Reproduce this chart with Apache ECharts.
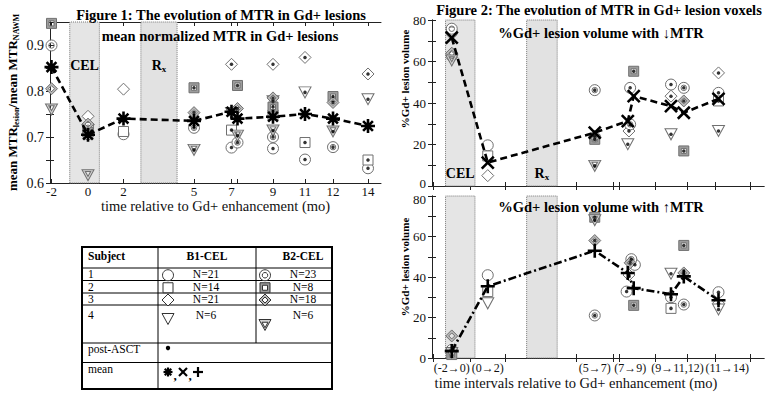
<!DOCTYPE html>
<html>
<head>
<meta charset="utf-8">
<script src="https://cdn.jsdelivr.net/npm/echarts@6/dist/echarts.min.js"></script>
<style>
  html, body { margin: 0; padding: 0; background: #fff; }
  #chart { width: 765px; height: 394px; }
</style>
</head>
<body>
<div id="chart"></div>
<script>
// ---------------- data ----------------
// months that carry a tick on the time axis, and the ones that are labelled
const tickMonths = [-2, 0, 2, 5, 7, 7.5, 9, 11, 12, 14];
const labelMonths = [-2, 0, 2, 5, 7, 9, 11, 12, 14];

// Figure 1: mean normalized MTR in Gd+ lesions, [month, MTR ratio]
const f1Mean = [[-2, 0.852], [0, 0.705], [2, 0.74], [5, 0.735], [7, 0.755], [7.5, 0.74], [9, 0.744], [11, 0.75], [12, 0.74], [14, 0.724]];
const f1B1Circle = [[0, 0.706], [2, 0.706], [7, 0.677], [9, 0.675], [11, 0.651], [14, 0.632]];
const f1B1Square = [[0, 0.712], [2, 0.712], [7, 0.715], [9, 0.748], [11, 0.688], [14, 0.65]];
const f1B1Diamond = [[0, 0.745], [2, 0.804], [7, 0.858], [9, 0.858], [11, 0.873], [14, 0.837]];
const f1B1Triangle = [[0, 0.715], [7, 0.752], [9, 0.778], [11, 0.797], [14, 0.782]];
const f1B2Circle = [[-2, 0.899], [0, 0.72], [5, 0.72], [7.5, 0.688], [9, 0.70], [12, 0.678]];
const f1B2Square = [[-2, 0.947], [0, 0.71], [5, 0.807], [7.5, 0.812], [9, 0.765], [12, 0.788]];
const f1B2Diamond = [[-2, 0.805], [0, 0.728], [5, 0.753], [7.5, 0.762], [9, 0.785], [12, 0.775]];
const f1B2Triangle = [[-2, 0.76], [0, 0.617], [5, 0.672], [7.5, 0.703], [9, 0.714], [12, 0.712]];

// Figure 2: % of Gd+ lesion volume, points sit between the two scans of each interval
const f2IntervalLabels = ['(-2\u21920)', '(0\u21922)', '(5\u21927)', '(7\u21929)', '(9\u219211,12)', '(11\u219214)'];
const f2LabelMonths = [-1, 1, 6, 7.95, 10.4, 12.7];

// decreasing MTR
const f2DownMean = [[-1, 71.5], [1, 11.3], [6, 25.7], [7.85, 31.3], [8.1, 43.3], [10, 38.5], [10.8, 35.3], [12.2, 42]];
const f2DownB1Circle = [[-1, 74], [1, 19.6], [7.95, 47.3], [10, 48.9], [12.2, 44.9]];
const f2DownB1Square = [[1, 14.5], [12.2, 41]];
const f2DownB1Diamond = [[-1, 62], [1, 5], [7.9, 26.5], [10, 43.3], [12.2, 54.5]];
const f2DownB1Triangle = [[7.85, 20.1], [10, 24.9], [12.2, 26.5]];
const f2DownB2Circle = [[-1, 75.8], [6, 46.2], [7.95, 29.7], [10.8, 47.3]];
const f2DownB2Square = [[6, 22.5], [8.1, 55.3], [10.8, 16.9]];
const f2DownB2Diamond = [[-1, 64], [6, 24], [10.8, 41]];
const f2DownB2Triangle = [[-1, 60.5], [6, 9.7]];

// increasing MTR
const f2UpMean = [[-1, 3.4], [1, 35.4], [6, 53], [7.85, 42], [8.1, 34.5], [10, 31.5], [10.8, 40.3], [12.2, 28.5]];
const f2UpB1Circle = [[1, 40.9], [7.8, 32.8], [8.15, 46], [10, 30], [12.2, 32.5]];
const f2UpB1Square = [[1, 32.8], [10, 24.5]];
const f2UpB1Diamond = [[7.9, 41], [12.2, 27]];
const f2UpB1Triangle = [[1, 27], [10, 41.6], [12.2, 24]];
const f2UpB2Circle = [[-1, 4], [6, 21], [8.0, 48.8], [10.8, 26.4]];
const f2UpB2Square = [[-1, 1.7], [6, 69.5], [8.1, 26], [10.8, 55.6]];
const f2UpB2Diamond = [[-1, 10.9], [6, 58], [7.95, 47], [10.8, 42]];
const f2UpB2Triangle = [[-1, 2.5], [6, 68]];

// legend table
const tableSubjects = ['1', '2', '3', '4'];
const tableB1N = ['N=21', 'N=14', 'N=21', 'N=6'];
const tableB2N = ['N=23', 'N=8', 'N=18', 'N=6'];
const postAsctFrom = 5; // scans from this month on are after ASCT

// ---------------- layout ----------------
const SERIF = '"Liberation Serif", "DejaVu Serif", serif';
// where each tick month sits along the (non-uniform) time axis, in axis units
const axisStops = [1.5, 38, 73.5, 144, 181.5, 187.5, 223, 255, 283, 318];
const f1Bands = [[-1, 0.64], [2.74, 4.28]];
const f2Bands = [[-1.34, 0.28], [2.9, 4.2]];

function warp(m) {
  let i = 0;
  while (i < tickMonths.length - 2 && m > tickMonths[i + 1]) i++;
  const t = (m - tickMonths[i]) / (tickMonths[i + 1] - tickMonths[i]);
  return axisStops[i] + t * (axisStops[i + 1] - axisStops[i]);
}

const SYM = {
  circle: 'M0,10A10,10,0,1,1,20,10A10,10,0,1,1,0,10Z',
  square: 'M0,0H20V20H0Z',
  diamond: 'M10,0L20,10L10,20L0,10Z',
  triangle: 'M0,0L20,0L10,18Z',
  circleRing: 'M0,10A10,10,0,1,1,20,10A10,10,0,1,1,0,10ZM5,10A5,5,0,1,0,15,10A5,5,0,1,0,5,10Z',
  squareRing: 'M0,0H20V20H0ZM5,5V15H15V5Z',
  diamondRing: 'M10,0L20,10L10,20L0,10ZM10,5L5,10L10,15L15,10Z',
  triangleRing: 'M0,0L20,0L10,18ZM5.5,3L10,11L14.5,3Z',
  asterisk: 'M10,0V20M0,10H20M3,3L17,17M17,3L3,17',
  cross: 'M0,0L20,20M20,0L0,20',
  plus: 'M10,0V20M0,10H20'
};

// B1 circle, square, diamond, triangle, then the B2 versions
const groupStyles = [
  { sym: 'circle', size: [11, 11], fill: '#fff' },
  { sym: 'square', size: [10, 10], fill: '#fff' },
  { sym: 'diamond', size: [12, 12], fill: '#fff' },
  { sym: 'triangle', size: [12, 11], fill: '#fff' },
  { sym: 'circleRing', size: [11, 11], fill: '#fff' },
  { sym: 'squareRing', size: [10, 10], fill: '#9c9c9c' },
  { sym: 'diamondRing', size: [12, 12], fill: '#b8b8b8' },
  { sym: 'triangleRing', size: [12, 11], fill: '#d4d4d4' }
];

const panels = [
  { groups: [f1B1Circle, f1B1Square, f1B1Diamond, f1B1Triangle, f1B2Circle, f1B2Square, f1B2Diamond, f1B2Triangle],
    mean: f1Mean, meanSym: 'asterisk', meanSize: 14, dash: [7, 4] },
  { groups: [f2DownB1Circle, f2DownB1Square, f2DownB1Diamond, f2DownB1Triangle, f2DownB2Circle, f2DownB2Square, f2DownB2Diamond, f2DownB2Triangle],
    mean: f2DownMean, meanSym: 'cross', meanSize: 12, dash: [7, 4] },
  { groups: [f2UpB1Circle, f2UpB1Square, f2UpB1Diamond, f2UpB1Triangle, f2UpB2Circle, f2UpB2Square, f2UpB2Diamond, f2UpB2Triangle],
    mean: f2UpMean, meanSym: 'plus', meanSize: 14, dash: [8, 3, 2, 3] }
];

const bandStyle = { color: '#e5e5e5', borderColor: '#777', borderType: 'dotted', borderWidth: 1 };
const bandLabelRich = {
  r: { fontFamily: SERIF, fontSize: 14, fontWeight: 'bold', color: '#000', lineHeight: 16 },
  s: { fontFamily: SERIF, fontSize: 9, fontWeight: 'bold', color: '#000', verticalAlign: 'bottom', lineHeight: 10 }
};

function bandData(bands, labelPos, labelDist) {
  const names = ['{r|CEL}', '{r|R}{s|x}'];
  return bands.map((b, i) => [
    {
      xAxis: warp(b[0]),
      itemStyle: Object.assign({}, bandStyle, i === 1 ? { color: '#e2e2e2' } : {}),
      label: labelPos ? { show: true, position: labelPos, distance: labelDist, formatter: names[i], rich: bandLabelRich } : { show: false }
    },
    { xAxis: warp(b[1]) }
  ]);
}

const series = [];
panels.forEach((p, k) => {
  const axisIdx = k * 2;
  series.push({
    type: 'scatter', xAxisIndex: axisIdx, yAxisIndex: axisIdx, data: [], silent: true, z: 1,
    markArea: {
      silent: true,
      data: k === 0 ? bandData(f1Bands, 'insideTop', 36) : bandData(f2Bands, k === 1 ? 'insideBottom' : null, 5)
    }
  });
  const post = [];
  p.groups.forEach((g, gi) => {
    const st = groupStyles[gi];
    series.push({
      type: 'scatter', xAxisIndex: axisIdx, yAxisIndex: axisIdx, silent: true, z: 3,
      symbol: 'path://' + SYM[st.sym], symbolSize: st.size,
      itemStyle: { color: st.fill, borderColor: '#707070', borderWidth: 1, opacity: 1 },
      data: g.map(d => [warp(d[0]), d[1]])
    });
    g.forEach(d => { if (d[0] >= postAsctFrom) post.push([warp(d[0]), d[1]]); });
  });
  series.push({
    type: 'scatter', xAxisIndex: axisIdx, yAxisIndex: axisIdx, silent: true, z: 4,
    symbol: 'circle', symbolSize: 3.5, itemStyle: { color: '#000' }, data: post
  });
  series.push({
    type: 'line', xAxisIndex: axisIdx, yAxisIndex: axisIdx, silent: true, z: 5,
    symbol: 'path://' + SYM[p.meanSym], symbolSize: p.meanSize,
    itemStyle: { color: '#000', borderColor: '#000', borderWidth: 2.6 },
    lineStyle: { color: '#000', width: 2.6, type: p.dash },
    data: p.mean.map(d => [warp(d[0]), d[1]])
  });
});

// ---------------- axes ----------------
const axisLine = { show: true, lineStyle: { color: '#222', width: 1 } };
const tickStyle = { color: '#222', width: 1 };
const tickPositions = tickMonths.map(warp);

function monthLabel(v) {
  const i = labelMonths.findIndex(m => Math.abs(warp(m) - v) < 0.01);
  return i < 0 ? '' : String(labelMonths[i]);
}
function intervalLabel(v) {
  const i = f2LabelMonths.findIndex(m => Math.abs(warp(m) - v) < 0.01);
  return i < 0 ? '' : f2IntervalLabels[i];
}

function timeAxes(grid, max, label, name, nameGap, nameStyle) {
  return [
    {
      gridIndex: grid, type: 'value', min: 0, max: max, position: 'bottom',
      axisLine: axisLine, splitLine: { show: false },
      axisTick: { show: true, inside: true, length: 4, customValues: tickPositions, lineStyle: tickStyle },
      axisLabel: label || { show: false },
      name: name || '', nameLocation: 'middle', nameGap: nameGap || 0, nameMoveOverlap: false,
      nameTextStyle: nameStyle || {}
    },
    {
      gridIndex: grid, type: 'value', min: 0, max: max, position: 'top',
      axisLine: axisLine, splitLine: { show: false },
      axisTick: { show: true, inside: true, length: 4, customValues: tickPositions, lineStyle: tickStyle },
      axisLabel: { show: false }
    }
  ];
}

function valueAxes(grid, min, max, interval, fmt, fontSize, rich, name, nameGap, nameStyle) {
  return [
    {
      gridIndex: grid, type: 'value', min: min, max: max, interval: interval, position: 'left',
      axisLine: axisLine, splitLine: { show: false },
      axisTick: { show: true, inside: true, length: 4, lineStyle: tickStyle },
      axisLabel: { formatter: fmt, margin: 6, fontFamily: SERIF, fontSize: fontSize, color: '#111', rich: rich },
      name: name, nameLocation: 'middle', nameRotate: 90, nameGap: nameGap, nameMoveOverlap: false,
      nameTextStyle: nameStyle
    },
    {
      gridIndex: grid, type: 'value', min: min, max: max, interval: interval, position: 'right',
      axisLine: axisLine, splitLine: { show: false },
      axisTick: { show: true, inside: true, length: 4, lineStyle: tickStyle },
      axisLabel: { show: false }
    }
  ];
}

const xAxis = [].concat(
  timeAxes(0, 331, {
    customValues: labelMonths.map(warp), formatter: monthLabel, margin: 2,
    fontFamily: SERIF, fontSize: 13, lineHeight: 13, color: '#111'
  }, 'time relative to Gd+ enhancement (mo)', 16,
  { fontFamily: SERIF, fontSize: 14.5, color: '#111', lineHeight: 14 }),
  timeAxes(1, 332, null),
  timeAxes(2, 332, {
    customValues: f2LabelMonths.map(warp), formatter: intervalLabel, margin: 4,
    fontFamily: SERIF, fontSize: 12, lineHeight: 12, color: '#111'
  }, 'time intervals relative to Gd+ enhancement (mo)', 18,
  { fontFamily: SERIF, fontSize: 14.5, color: '#111', lineHeight: 14, padding: [0, 44, 0, 0] })
);

const f2NameStyle = pad => ({
  fontFamily: SERIF, fontSize: 11, fontWeight: 'bold', color: '#000', padding: [0, 0, 0, pad]
});
// the two stacked panels nudge their touching end labels ("0" above, "80" below) apart
const f2LabelRich = {
  n: { fontFamily: SERIF, fontSize: 13, color: '#111', lineHeight: 13 },
  up: { fontFamily: SERIF, fontSize: 13, color: '#111', lineHeight: 13, padding: [0, 0, 6, 0] },
  down: { fontFamily: SERIF, fontSize: 13, color: '#111', lineHeight: 13, padding: [6, 0, 0, 0] }
};
const f2Fmt = edge => v => {
  if (v % 20 !== 0) return '';
  const tag = (edge === 'up' && v === 0) || (edge === 'down' && v === 80) ? edge : 'n';
  return '{' + tag + '|' + v + '}';
};

const yAxis = [].concat(
  valueAxes(0, 0.6, 0.95, 0.05, v => {
    const k = Math.round(v * 100);
    return k % 10 === 0 ? (k / 100).toFixed(1) : '';
  }, 14, undefined, '{b|mean MTR}{s|lesion}{b|/mean MTR}{s|NAWM}', 30, {
    rich: {
      b: { fontFamily: SERIF, fontSize: 13, fontWeight: 'bold', color: '#000', lineHeight: 15 },
      s: { fontFamily: SERIF, fontSize: 8, fontWeight: 'bold', color: '#000', lineHeight: 9, verticalAlign: 'bottom' }
    }
  }),
  valueAxes(1, 0, 80, 10, f2Fmt('up'), 13, f2LabelRich, '%Gd+ lesion volume', 22, f2NameStyle(48)),
  valueAxes(2, 0, 80, 10, f2Fmt('down'), 13, f2LabelRich, '%Gd+ lesion volume', 22, f2NameStyle(20))
);

// ---------------- titles and legend table ----------------
function txt(x, y, text, size, bold, align) {
  return {
    type: 'text', x: x, y: y, z: 50, silent: true,
    style: {
      text: text, fill: '#000', align: align || 'center', verticalAlign: 'middle',
      font: (bold ? 'bold ' : '') + size + 'px ' + SERIF
    }
  };
}
function line(x1, y1, x2, y2, w, color) {
  return { type: 'line', z: 50, silent: true, shape: { x1: x1, y1: y1, x2: x2, y2: y2 }, style: { stroke: color || '#000', lineWidth: w || 1 } };
}
function poly(points, fill, stroke) {
  return { type: 'polygon', z: 50, silent: true, shape: { points: points }, style: { fill: fill, stroke: stroke, lineWidth: 1 } };
}
// legend glyphs drawn from plain graphic primitives
function glyph(name, cx, cy, w, h, fill, stroke) {
  const hw = w / 2, hh = h / 2;
  const out = [];
  const dia = k => [[cx, cy - hh * k], [cx + hw * k, cy], [cx, cy + hh * k], [cx - hw * k, cy]];
  const tri = k => [[cx - hw * k, cy - hh * k], [cx + hw * k, cy - hh * k], [cx, cy + hh * k]];
  const st = f => ({ fill: f, stroke: stroke, lineWidth: 1 });
  if (name === 'circle' || name === 'circleRing') {
    out.push({ type: 'circle', z: 50, silent: true, shape: { cx: cx, cy: cy, r: hw }, style: st(fill) });
    if (name === 'circleRing') out.push({ type: 'circle', z: 50, silent: true, shape: { cx: cx, cy: cy, r: hw * 0.5 }, style: st('#fff') });
  } else if (name === 'square' || name === 'squareRing') {
    out.push({ type: 'rect', z: 50, silent: true, shape: { x: cx - hw, y: cy - hh, width: w, height: h }, style: st(fill) });
    if (name === 'squareRing') out.push({ type: 'rect', z: 50, silent: true, shape: { x: cx - hw / 2, y: cy - hh / 2, width: w / 2, height: h / 2 }, style: st('#fff') });
  } else if (name === 'diamond' || name === 'diamondRing') {
    out.push(poly(dia(1), fill, stroke));
    if (name === 'diamondRing') out.push(poly(dia(0.5), '#fff', stroke));
  } else if (name === 'triangle' || name === 'triangleRing') {
    out.push(poly(tri(1), fill, stroke));
    if (name === 'triangleRing') out.push(poly(tri(0.5), '#fff', stroke));
  }
  return out;
}
function strokeMark(name, cx, cy, s) {
  const h = s / 2, d = h * 0.72, w = 2.2;
  const segs = {
    asterisk: [[0, -h, 0, h], [-h, 0, h, 0], [-d, -d, d, d], [d, -d, -d, d]],
    cross: [[-h, -h, h, h], [h, -h, -h, h]],
    plus: [[0, -h, 0, h], [-h, 0, h, 0]]
  }[name];
  return segs.map(sg => line(cx + sg[0], cy + sg[1], cx + sg[2], cy + sg[3], w));
}

const T = { left: 82, right: 332, top: 247, bottom: 389, colB1: 158, colB2: 256,
            rows: [247, 268, 280.5, 293, 305, 343, 362.5, 389] };
let graphic = [
  txt(221, 15, 'Figure 1: The evolution of MTR in Gd+ lesions', 14.5, true),
  txt(220, 36, 'mean normalized MTR in Gd+ lesions', 14.5, true),
  txt(599, 10, 'Figure 2: The evolution of MTR in Gd+ lesion voxels', 14.5, true),
  txt(601, 33, '%Gd+ lesion volume with \u2193MTR', 14.5, true),
  txt(601, 207, '%Gd+ lesion volume with \u2191MTR', 14.5, true),
  { type: 'rect', z: 50, silent: true, shape: { x: T.left, y: T.top, width: T.right - T.left, height: T.bottom - T.top },
    style: { fill: '#fff', stroke: '#000', lineWidth: 2 } }
];
T.rows.slice(1, -1).forEach(y => graphic.push(line(T.left, y, T.right, y)));
graphic.push(line(T.colB1, T.top, T.colB1, T.bottom));
graphic.push(line(T.colB2, T.top, T.colB2, T.rows[5]));
graphic.push(txt(88, 256, 'Subject', 11.5, true, 'left'));
graphic.push(txt(207, 256, 'B1-CEL', 11.5, true));
graphic.push(txt(303, 256, 'B2-CEL', 11.5, true));
tableSubjects.forEach((s, i) => {
  const yc = i < 3 ? (T.rows[i + 1] + T.rows[i + 2]) / 2 : 315;
  const st1 = groupStyles[i], st2 = groupStyles[i + 4];
  graphic.push(txt(88, yc, s, 11.5, false, 'left'));
  graphic = graphic.concat(glyph(st1.sym, 168, i < 3 ? yc + 1 : 319, st1.size[0], st1.size[1], '#fff', '#333'));
  graphic.push(txt(206, yc, tableB1N[i], 11.5, false));
  graphic = graphic.concat(glyph(st2.sym, 265, i < 3 ? yc + 1 : 325, st2.size[0], st2.size[1], st2.fill, '#333'));
  graphic.push(txt(303, yc, tableB2N[i], 11.5, false));
});
graphic.push(txt(88, 349, 'post-ASCT', 11.5, false, 'left'));
graphic.push({ type: 'circle', z: 50, silent: true, shape: { cx: 168, cy: 348, r: 2.2 }, style: { fill: '#000' } });
graphic.push(txt(88, 369, 'mean', 11.5, false, 'left'));
graphic = graphic.concat(strokeMark('asterisk', 168, 372, 9));
graphic.push(txt(175, 375, ',', 13, true));
graphic = graphic.concat(strokeMark('cross', 183, 372, 8));
graphic.push(txt(190, 375, ',', 13, true));
graphic = graphic.concat(strokeMark('plus', 198, 372, 10));

// ---------------- chart ----------------
const chart = echarts.init(document.getElementById('chart'), null, { renderer: 'svg', width: 765, height: 394 });
chart.setOption({
  animation: false,
  backgroundColor: '#fff',
  grid: [
    { left: 50, top: 22, width: 331, height: 161, outerBoundsMode: 'none' },
    { left: 432, top: 20, width: 332, height: 166, outerBoundsMode: 'none' },
    { left: 432, top: 196, width: 332, height: 162, outerBoundsMode: 'none' }
  ],
  xAxis: xAxis,
  yAxis: yAxis,
  series: series,
  graphic: graphic
});
</script>
</body>
</html>
